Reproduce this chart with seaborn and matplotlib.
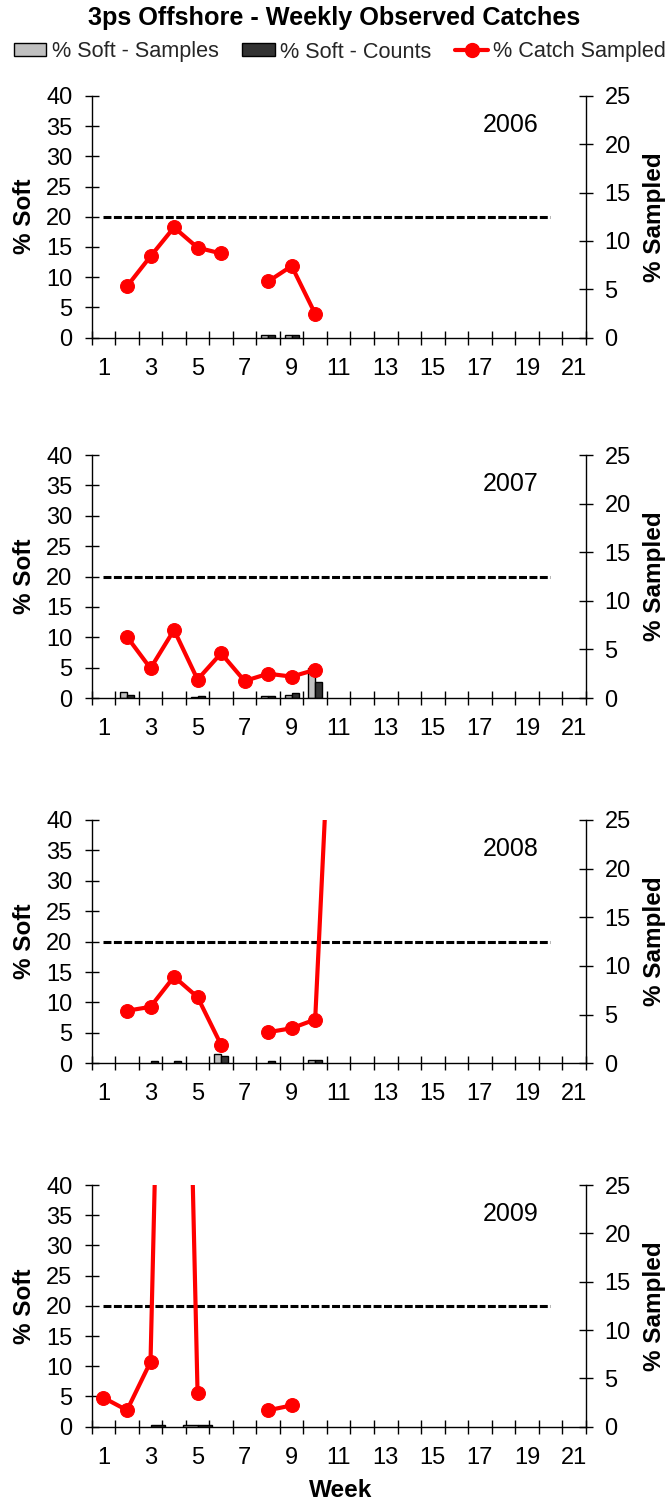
import numpy as np
import pandas as pd
import matplotlib
matplotlib.use("Agg")
import matplotlib.pyplot as plt
import seaborn as sns
from matplotlib.patches import Patch
from matplotlib.lines import Line2D

sns.set_theme(style="white")
plt.rcParams['font.family'] = ['Liberation Sans', 'DejaVu Sans']

# ---------------- data ----------------
years = ["2006", "2007", "2008", "2009"]
weeks = list(range(1, 22))
odd_week_labels = [str(w) for w in range(1, 22, 2)]
threshold_weeks = [1, 20]
threshold_value = 20

# % Catch Sampled (right axis), None = no observation
sampled_2006 = [None, 5.3, 8.4, 11.4, 9.3, 8.7, None, 5.8, 7.4, 2.45] + [None] * 11
sampled_2007 = [None, 6.3, 3.05, 7.0, 1.9, 4.6, 1.75, 2.5, 2.2, 2.9] + [None] * 11
sampled_2008 = [None, 5.4, 5.8, 8.9, 6.8, 1.9, None, 3.2, 3.6, 4.5, 55.0] + [None] * 10
sampled_2009 = [3.0, 1.7, 6.7, 110.0, 3.5, None, None, 1.7, 2.2] + [None] * 12

# % Soft bars (left axis), None = no bar
soft_samples_2006 = [None] * 7 + [0.4, 0.4] + [None] * 12
soft_counts_2006 = [None] * 7 + [0.4, 0.4] + [None] * 12
soft_samples_2007 = [None, 1.0, None, None, 0.2, None, None, 0.3, 0.5, 4.9] + [None] * 11
soft_counts_2007 = [None, 0.5, None, None, 0.3, None, None, 0.3, 0.8, 2.6] + [None] * 11
soft_samples_2008 = [None] * 5 + [1.5, None, None, None, 0.6] + [None] * 11
soft_counts_2008 = [None, None, 0.3, 0.3, None, 1.25, None, 0.3, None, 0.6] + [None] * 11
soft_samples_2009 = [None] * 4 + [0.3] + [None] * 16
soft_counts_2009 = [None, None, 0.3, None, 0.3] + [None] * 16

sampled = [sampled_2006, sampled_2007, sampled_2008, sampled_2009]
soft_samples = [soft_samples_2006, soft_samples_2007, soft_samples_2008, soft_samples_2009]
soft_counts = [soft_counts_2006, soft_counts_2007, soft_counts_2008, soft_counts_2009]

# ---------------- layout ----------------
W, H = 668, 1504
fig = plt.figure(figsize=(W / 100, H / 100), dpi=100)
left_px, right_px = 91.7, 585.7
panels_px = [(96, 337.5), (455, 698), (820, 1063.3), (1185, 1426.7)]

FS = 17
LFS = 17.5
col_samples = "#c0c0c0"
col_counts = "#333333"
col_red = "#ff0000"

for i, (yr, (top, bot)) in enumerate(zip(years, panels_px)):
    ax = fig.add_axes([left_px / W, 1 - bot / H, (right_px - left_px) / W, (bot - top) / H])
    ax.set_facecolor("none")

    # bars
    rows = []
    for w, s, c in zip(weeks, soft_samples[i], soft_counts[i]):
        if s is not None:
            rows.append({"week": w, "series": "% Soft - Samples", "value": s})
        if c is not None:
            rows.append({"week": w, "series": "% Soft - Counts", "value": c})
    bdf = pd.DataFrame(rows)
    sns.barplot(data=bdf, x="week", y="value", hue="series",
                hue_order=["% Soft - Samples", "% Soft - Counts"],
                palette={"% Soft - Samples": col_samples, "% Soft - Counts": col_counts},
                native_scale=True, width=0.6, dodge=True, errorbar=None,
                edgecolor="black", linewidth=1.0, legend=False, ax=ax)

    # threshold dashed line
    sns.lineplot(x=threshold_weeks, y=[threshold_value] * len(threshold_weeks), ax=ax,
                 color="black", linewidth=2.2, legend=False)
    ax.lines[-1].set_linestyle((0, (2.6, 0.8)))

    ax.set_xlim(0.5, 21.5)
    ax.set_ylim(0, 40)
    ax.set_yticks(np.arange(0, 41, 5))
    ax.set_xticks(np.arange(0.5, 22, 1.0))
    ax.set_xticklabels([])
    ax.set_xticks(np.arange(1, 22, 2), minor=True)
    ax.set_xticklabels(odd_week_labels, minor=True, fontsize=FS)
    ax.tick_params(axis="x", which="major", direction="inout", length=10, width=1, color="black", bottom=True)
    ax.tick_params(axis="x", which="minor", length=0, pad=14.5, labelcolor="black", bottom=True)
    ax.tick_params(axis="y", which="major", direction="inout", length=10, width=1, color="black",
                   labelsize=FS, pad=9.0, left=True, labelcolor="black")
    for sp in ["top", "right"]:
        ax.spines[sp].set_visible(False)
    for sp in ["left", "bottom"]:
        ax.spines[sp].set_color("black")
        ax.spines[sp].set_linewidth(1.0)
    ax.set_xlabel("")
    ax.set_ylabel("% Soft", fontsize=LFS, fontweight="bold", va="center", color="black")
    ax.yaxis.set_label_coords(-0.137, 0.5)

    # right axis: % catch sampled
    ax2 = ax.twinx()
    vals = sampled[i]
    seg, segs = [], []
    for w, v in zip(weeks, vals):
        if v is None:
            if seg:
                segs.append(seg)
            seg = []
        else:
            seg.append((w, v))
    if seg:
        segs.append(seg)
    for sg in segs:
        sdf = pd.DataFrame(sg, columns=["week", "pct"])
        sns.lineplot(data=sdf, x="week", y="pct", ax=ax2, color=col_red, linewidth=3.0,
                     marker="o", markersize=10, markeredgecolor=col_red, estimator=None,
                     legend=False)
    ax2.set_ylim(0, 25)
    ax2.set_xlim(0.5, 21.5)
    ax2.set_yticks(np.arange(0, 26, 5))
    ax2.tick_params(axis="y", which="major", direction="inout", length=10, width=1, color="black",
                    labelsize=FS, pad=8.5, right=True, labelcolor="black")
    for sp in ["top", "left", "bottom"]:
        ax2.spines[sp].set_visible(False)
    ax2.spines["right"].set_color("black")
    ax2.spines["right"].set_linewidth(1.0)
    ax2.set_ylabel("% Sampled", fontsize=LFS, fontweight="bold", va="center", color="black")
    ax2.yaxis.set_label_coords(1.14, 0.5)
    ax2.set_xlabel("")

    ax2.text(0.849, 0.88, yr, transform=ax2.transAxes, ha="center", va="center",
             fontsize=FS + 1, color="black")

    if i == len(years) - 1:
        ax.set_xlabel("Week", fontsize=LFS, fontweight="bold", va="center", color="black")
        ax.xaxis.set_label_coords(0.503, -0.265)

fig.suptitle("3ps Offshore - Weekly Observed Catches", y=1 - 18.5 / H, va="center",
             fontsize=18.2, fontweight="bold", color="black")

handles = [
    Patch(facecolor=col_samples, edgecolor="black", linewidth=1.0),
    Patch(facecolor=col_counts, edgecolor="black", linewidth=1.0),
    Line2D([0], [0], color=col_red, linewidth=3.0, marker="o", markersize=10),
]
labels = ["% Soft - Samples", "% Soft - Counts", "% Catch Sampled"]
fig.legend(handles, labels, loc="center", bbox_to_anchor=(0.5 + 6 / W, 1 - 52 / H), ncol=3,
           frameon=False, fontsize=15.6, handlelength=1.5, handleheight=0.55,
           handletextpad=0.25, columnspacing=1.1, borderaxespad=0)

fig.savefig("out.png", dpi=100)
